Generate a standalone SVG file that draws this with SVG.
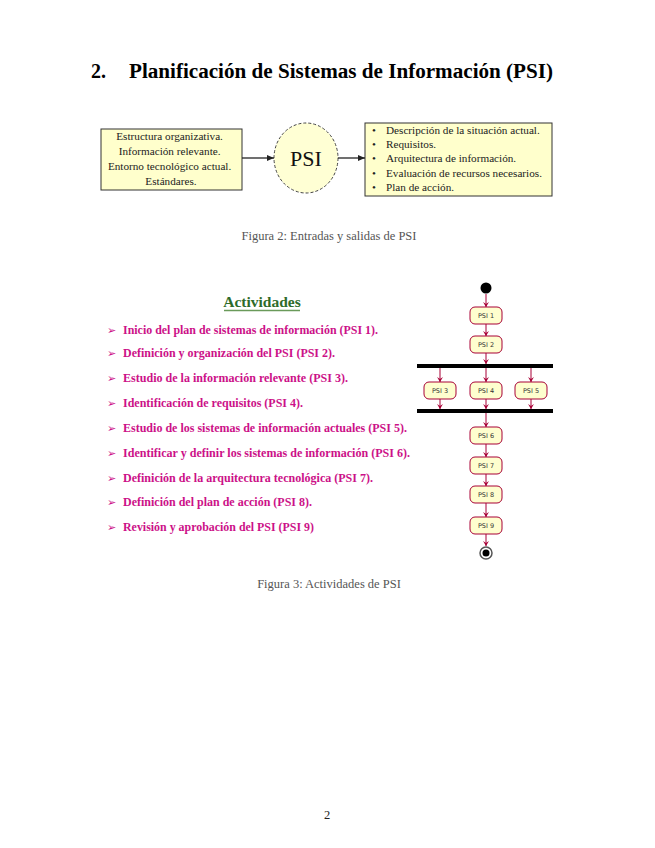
<svg xmlns="http://www.w3.org/2000/svg" width="655" height="848" viewBox="0 0 655 848">
<style>
.serif{font-family:"Liberation Serif","Times New Roman",serif}
.cap{font-family:"Liberation Serif",serif;font-size:12.5px;fill:#555}
.box{fill:#ffffcc;stroke:#333;stroke-width:1}
.line{stroke:#222;stroke-width:1.3;fill:none}
.item{font-family:"Liberation Serif",serif;font-weight:bold;font-size:12.5px;fill:#cc1188}
.bul{font-family:"DejaVu Sans",sans-serif;font-size:11px;fill:#cc1188}
.act{fill:#fefece;stroke:#a80036;stroke-width:1}
.actt{font-family:"DejaVu Sans",sans-serif;font-size:6.5px;fill:#333;text-anchor:middle}
.fl{stroke:#a80036;stroke-width:1;fill:none}
.bar{fill:#000}
</style>
<defs>
<marker id="ah" markerWidth="8" markerHeight="8" refX="7" refY="4" orient="auto" markerUnits="userSpaceOnUse">
<path d="M0,1 L7,4 L0,7 Z" fill="#222"/>
</marker>
<marker id="ar" markerWidth="6" markerHeight="6" refX="5" refY="3" orient="auto" markerUnits="userSpaceOnUse">
<path d="M0,0 L5,3 L0,6 L2,3 Z" fill="#a80036"/>
</marker>
</defs>
<rect width="655" height="848" fill="#fff"/>

<text class="serif" x="91" y="78" font-size="20" font-weight="bold">2.</text>
<text class="serif" x="129" y="78" font-size="20" font-weight="bold" textLength="424" lengthAdjust="spacingAndGlyphs">Planificación de Sistemas de Información (PSI)</text>

<g id="inputs">
<rect class="box" x="101" y="129" width="141" height="61"/>
<text class="serif" font-size="11.2" text-anchor="middle" fill="#222">
<tspan x="171" y="140">Estructura organizativa.</tspan>
<tspan x="171" y="155">Información relevante.</tspan>
<tspan x="171" y="170">Entorno tecnológico actual.</tspan>
<tspan x="171" y="185">Estándares.</tspan>
</text>
</g>
<g id="psi">
<ellipse cx="306" cy="158" rx="32" ry="35" fill="#ffffd4" stroke="#444" stroke-width="1" stroke-dasharray="3,2"/>
<text class="serif" x="306" y="166" font-size="22" text-anchor="middle" fill="#111">PSI</text>
</g>
<g id="outputs">
<rect class="box" x="365" y="123" width="187" height="73"/>
<text class="serif" font-size="11.2" fill="#222">
<tspan x="372" y="134">•</tspan><tspan x="386" y="134">Descripción de la situación actual.</tspan>
<tspan x="372" y="148">•</tspan><tspan x="386" y="148">Requisitos.</tspan>
<tspan x="372" y="162">•</tspan><tspan x="386" y="162">Arquitectura de información.</tspan>
<tspan x="372" y="177">•</tspan><tspan x="386" y="177">Evaluación de recursos necesarios.</tspan>
<tspan x="372" y="191">•</tspan><tspan x="386" y="191">Plan de acción.</tspan>
</text>
</g>
<g id="connectors1">
<line class="line" x1="242" y1="158" x2="274" y2="158" marker-end="url(#ah)"/>
<line class="line" x1="338" y1="158" x2="365" y2="158" marker-end="url(#ah)"/>
</g>
<text class="cap" x="329" y="240" text-anchor="middle">Figura 2: Entradas y salidas de PSI</text>

<g id="activities-list">
<text x="262" y="307" font-family="Liberation Serif,serif" font-weight="bold" font-size="15.5" fill="#2e6b2a" text-anchor="middle">Actividades</text>
<line x1="224" y1="310.5" x2="300" y2="310.5" stroke="#6a9a5a" stroke-width="1.5"/>
<text class="bul" x="107" y="334">➢</text><text class="item" x="123" y="334" textLength="255" lengthAdjust="spacingAndGlyphs">Inicio del plan de sistemas de información (PSI 1).</text>
<text class="bul" x="107" y="357">➢</text><text class="item" x="123" y="357" textLength="212" lengthAdjust="spacingAndGlyphs">Definición y organización del PSI (PSI 2).</text>
<text class="bul" x="107" y="382">➢</text><text class="item" x="123" y="382" textLength="225" lengthAdjust="spacingAndGlyphs">Estudio de la información relevante (PSI 3).</text>
<text class="bul" x="107" y="407">➢</text><text class="item" x="123" y="407" textLength="180" lengthAdjust="spacingAndGlyphs">Identificación de requisitos (PSI 4).</text>
<text class="bul" x="107" y="432">➢</text><text class="item" x="123" y="432" textLength="284" lengthAdjust="spacingAndGlyphs">Estudio de los sistemas de información actuales (PSI 5).</text>
<text class="bul" x="107" y="457">➢</text><text class="item" x="123" y="457" textLength="287" lengthAdjust="spacingAndGlyphs">Identificar y definir los sistemas de información (PSI 6).</text>
<text class="bul" x="107" y="482">➢</text><text class="item" x="123" y="482" textLength="250" lengthAdjust="spacingAndGlyphs">Definición de la arquitectura tecnológica (PSI 7).</text>
<text class="bul" x="107" y="506">➢</text><text class="item" x="123" y="506" textLength="189" lengthAdjust="spacingAndGlyphs">Definición del plan de acción (PSI 8).</text>
<text class="bul" x="107" y="531">➢</text><text class="item" x="123" y="531" textLength="191" lengthAdjust="spacingAndGlyphs">Revisión y aprobación del PSI (PSI 9)</text>
</g>

<g id="flow-connectors">
<line class="fl" x1="486" y1="294" x2="486" y2="307" marker-end="url(#ar)"/>
<line class="fl" x1="486" y1="324" x2="486" y2="336" marker-end="url(#ar)"/>
<line class="fl" x1="486" y1="353" x2="486" y2="364" marker-end="url(#ar)"/>
<line class="fl" x1="440" y1="368" x2="440" y2="382" marker-end="url(#ar)"/>
<line class="fl" x1="486" y1="368" x2="486" y2="382" marker-end="url(#ar)"/>
<line class="fl" x1="531" y1="368" x2="531" y2="382" marker-end="url(#ar)"/>
<line class="fl" x1="440" y1="399" x2="440" y2="409" marker-end="url(#ar)"/>
<line class="fl" x1="486" y1="399" x2="486" y2="409" marker-end="url(#ar)"/>
<line class="fl" x1="531" y1="399" x2="531" y2="409" marker-end="url(#ar)"/>
<line class="fl" x1="486" y1="413" x2="486" y2="427" marker-end="url(#ar)"/>
<line class="fl" x1="486" y1="444" x2="486" y2="457" marker-end="url(#ar)"/>
<line class="fl" x1="486" y1="474" x2="486" y2="486" marker-end="url(#ar)"/>
<line class="fl" x1="486" y1="503" x2="486" y2="517" marker-end="url(#ar)"/>
<line class="fl" x1="486" y1="534" x2="486" y2="546" marker-end="url(#ar)"/>
</g>
<g id="start"><circle cx="486" cy="288" r="5.5" fill="#000"/></g>
<g id="psi1"><rect class="act" x="470" y="307" width="32" height="17" rx="5"/><text class="actt" x="486" y="318">PSI 1</text></g>
<g id="psi2"><rect class="act" x="470" y="336" width="32" height="17" rx="5"/><text class="actt" x="486" y="347">PSI 2</text></g>
<g id="fork"><rect class="bar" x="417" y="364" width="136" height="4"/></g>
<g id="psi3"><rect class="act" x="424" y="382" width="32" height="17" rx="5"/><text class="actt" x="440" y="393">PSI 3</text></g>
<g id="psi4"><rect class="act" x="470" y="382" width="32" height="17" rx="5"/><text class="actt" x="486" y="393">PSI 4</text></g>
<g id="psi5"><rect class="act" x="515" y="382" width="32" height="17" rx="5"/><text class="actt" x="531" y="393">PSI 5</text></g>
<g id="join"><rect class="bar" x="417" y="409" width="136" height="4"/></g>
<g id="psi6"><rect class="act" x="470" y="427" width="32" height="17" rx="5"/><text class="actt" x="486" y="438">PSI 6</text></g>
<g id="psi7"><rect class="act" x="470" y="457" width="32" height="17" rx="5"/><text class="actt" x="486" y="468">PSI 7</text></g>
<g id="psi8"><rect class="act" x="470" y="486" width="32" height="17" rx="5"/><text class="actt" x="486" y="497">PSI 8</text></g>
<g id="psi9"><rect class="act" x="470" y="517" width="32" height="17" rx="5"/><text class="actt" x="486" y="528">PSI 9</text></g>
<g id="end"><circle cx="486" cy="553" r="6" fill="#fff" stroke="#555" stroke-width="1.5"/><circle cx="486" cy="553" r="3.5" fill="#000"/></g>

<text class="cap" x="329" y="588" text-anchor="middle">Figura 3: Actividades de PSI</text>
<text class="serif" x="327" y="819" font-size="12.5" text-anchor="middle" fill="#222">2</text>
</svg>
